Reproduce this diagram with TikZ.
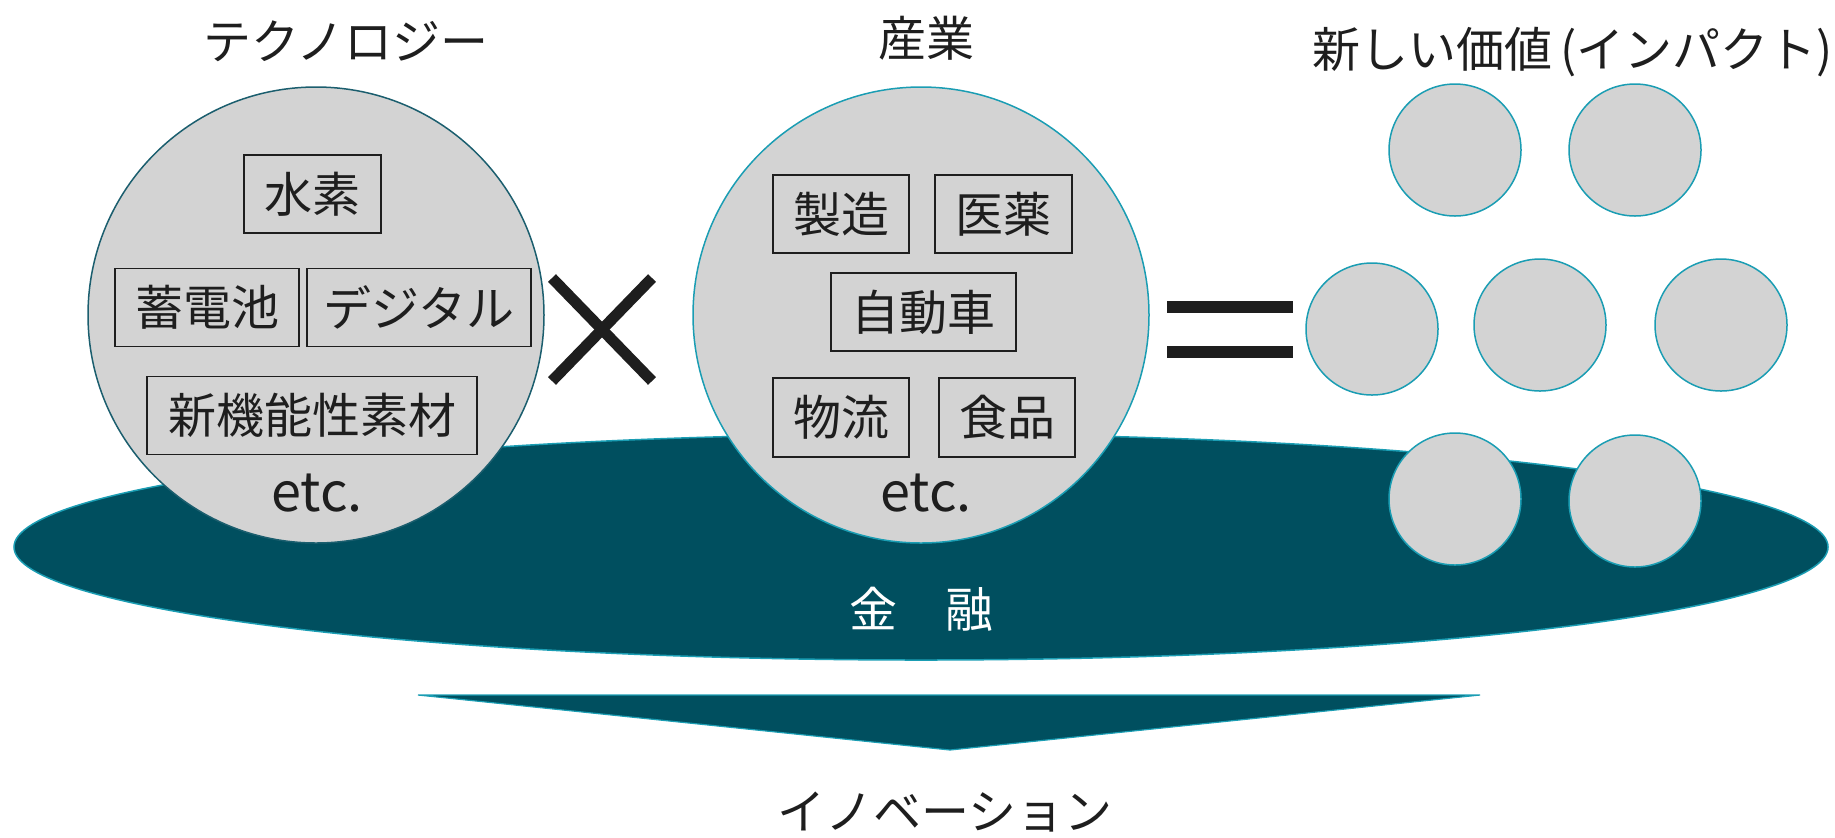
\documentclass[tikz,border=0pt]{standalone}
\usepackage{fontspec}
\newfontfamily\jp{Noto Sans CJK JP}
\usetikzlibrary{shapes.geometric}
\definecolor{finDark}{HTML}{004F5F}
\definecolor{edgeCyan}{HTML}{1A9DB3}
\definecolor{edgeDark}{HTML}{1B5E6E}
\definecolor{bubble}{HTML}{D3D3D3}
\definecolor{ink}{HTML}{1E1E1E}
\begin{document}
\begin{tikzpicture}[x=0.5pt,y=-0.5pt,
  every node/.style={font=\jp, text=ink},
  bigcirc/.style={circle, fill=bubble, draw=edgeCyan, line width=0.75pt, minimum size=228pt, inner sep=0pt},
  smallcirc/.style={circle, fill=bubble, draw=edgeCyan, line width=0.75pt, minimum size=66pt, inner sep=0pt},
  tag/.style={draw=ink, line width=0.9pt, inner sep=0pt, minimum height=39pt, font=\jp\fontsize{24}{28}\selectfont},
  title/.style={anchor=base, inner sep=0pt, font=\jp\fontsize{24}{28}\selectfont},
  etcstyle/.style={anchor=base, inner sep=0pt, font=\jp\fontsize{27}{30}\selectfont},
  signline/.style={line width=5.5pt, draw=ink},
]
\useasboundingbox (0,0) rectangle (1835,837);

% finance ellipse
\node[ellipse, fill=finDark, draw=edgeCyan, line width=0.75pt, minimum width=907pt, minimum height=113pt, inner sep=0pt] (fin) at (921,547) {};
\node[text=white, inner sep=0pt, font=\jp\fontsize{24}{28}\selectfont] (finlabel) at (921,609) {金　融};

% titles
\node[title] (ttech) at (346,59) {テクノロジー};
\node[title] (tind) at (926,56) {産業};
\node[title, anchor=base east] (tval) at (1833,67) {新しい価値\kern0.15em(インパクト)};

% technology circle
\node[bigcirc, draw=edgeDark] (tech) at (316,315) {};
\node[tag, minimum width=68.5pt] (h2) at (312.5,194) {水素};
\node[tag, minimum width=92pt] (batt) at (207,307.5) {蓄電池};
\node[tag, minimum width=112pt] (digi) at (419,307.5) {デジタル};
\node[tag, minimum width=165pt] (mat) at (312,415.5) {新機能性素材};
\node[etcstyle] (etc1) at (317,511) {etc.};

% industry circle
\node[bigcirc] (ind) at (921,315) {};
\node[tag, minimum width=68pt] (mfg) at (841,214) {製造};
\node[tag, minimum width=68.5pt] (med) at (1003.5,214) {医薬};
\node[tag, minimum width=92.5pt] (auto) at (923.5,312) {自動車};
\node[tag, minimum width=68pt, minimum height=39.5pt] (logi) at (841,417.5) {物流};
\node[tag, minimum width=68pt, minimum height=39.5pt] (food) at (1007,417.5) {食品};
\node[etcstyle] (etc2) at (926,511) {etc.};

% times sign
\draw[signline] (552,278) -- (652,381);
\draw[signline] (652,278) -- (552,381);

% equals sign
\fill[ink] (1167,301) rectangle (1293,313);
\fill[ink] (1167,346) rectangle (1293,358);

% value circles
\node[smallcirc] (v1) at (1455,150) {};
\node[smallcirc] (v2) at (1635,150) {};
\node[smallcirc] (v3) at (1372,329) {};
\node[smallcirc] (v4) at (1540,325) {};
\node[smallcirc] (v5) at (1721,325) {};
\node[smallcirc] (v6) at (1455,499) {};
\node[smallcirc] (v7) at (1635,501) {};

% arrow
\filldraw[fill=finDark, draw=edgeCyan, line width=0.6pt] (418,695) -- (1480,695) -- (950,750) -- cycle;
\node[title] (innov) at (945,829) {イノベーション};
\end{tikzpicture}
\end{document}
